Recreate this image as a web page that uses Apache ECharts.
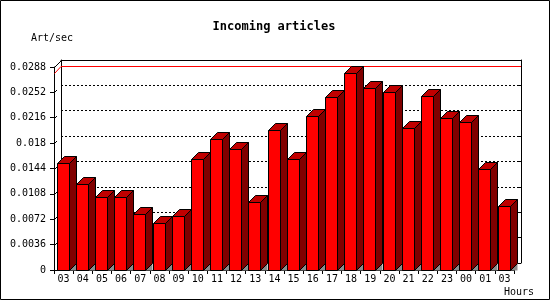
<!DOCTYPE html>
<html><head><meta charset="utf-8">
<script src="https://cdn.jsdelivr.net/npm/echarts@6/dist/echarts.min.js"></script>
<style>html,body{margin:0;padding:0;background:#fff}#c{width:550px;height:300px}</style>
</head><body><div id="c"></div>
<script>
const hours = ['03','04','05','06','07','08','09','10','11','12','13','14','15','16','17','18','19','20','21','22','23','00','01','03'];
const artsPerSec = [0.0152,0.0122,0.0103,0.0103,0.0080,0.0066,0.0077,0.0158,0.0186,0.0172,0.0097,0.0199,0.0158,0.0218,0.0246,0.0279,0.0258,0.0252,0.0201,0.0247,0.0216,0.0210,0.0144,0.0091];
const yTickLabels = ['0','0.0036','0.0072','0.0108','0.0144','0.018','0.0216','0.0252','0.0288'];
const yMin = 0, yMax = 0.0288, yStep = 0.0036;
const D = 7;
const FONT = 'DejaVu Sans Mono';

const chart = echarts.init(document.getElementById('c'), null, {renderer: 'canvas'});

function renderBar(params, api) {
  const idx = api.value(0), v = api.value(1);
  const top = api.coord([idx, v]);
  const base = api.coord([idx, 0]);
  const bw = api.size([1, 0])[0];
  const x0 = Math.round(top[0] - bw / 2 + 2.7) + 0.5;
  const w = 12;
  const x1 = x0 + w;
  const yt = Math.round(top[1]) + 0.5;
  const yb = Math.round(base[1]) + 0.5;
  return {type: 'group', children: [
    {type: 'polygon', shape: {points: [[x1, yb], [x1 + D, yb - D], [x1 + D, yb]]}, style: {fill: '#8c8c8c', stroke: null}},
    {type: 'polygon', shape: {points: [[x1, yb], [x1, yt], [x1 + D, yt - D], [x1 + D, yb - D]]}, style: {fill: '#800000', stroke: '#000', lineWidth: 1}},
    {type: 'polygon', shape: {points: [[x0, yt], [x1, yt], [x1 + D, yt - D], [x0 + D, yt - D]]}, style: {fill: '#c00000', stroke: '#000', lineWidth: 1}},
    {type: 'rect', shape: {x: x0, y: yt, width: w, height: yb - yt}, style: {fill: '#ff0000', stroke: '#000', lineWidth: 1}}
  ]};
}

function renderMaxLine(params, api) {
  const p = api.coord([0, api.value(1)]);
  const cs = params.coordSys;
  const y = Math.round(p[1]) + 0.5;
  return {type: 'group', children: [
    {type: 'line', shape: {x1: cs.x, y1: y, x2: cs.x + cs.width, y2: y}, style: {stroke: '#ff0000', lineWidth: 1}},
    {type: 'line', shape: {x1: cs.x - D + 0.5, y1: y + D, x2: cs.x, y2: y}, style: {stroke: '#ff0000', lineWidth: 1}}
  ]};
}

function renderWallTick(params, api) {
  const v = api.value(1);
  const p = api.coord([0, v]);
  const cs = params.coordSys;
  const x = cs.x + 0.5;
  const y = Math.round(p[1]) + 0.5;
  const isTop = Math.abs(v - yMax) < 1e-9;
  const len = isTop ? D : 2.5;
  return {type: 'line', shape: {x1: x, y1: y, x2: x + len, y2: y - len}, style: {stroke: '#000', lineWidth: 1}};
}

const tickVals = yTickLabels.map(s => parseFloat(s)).filter(v => v > 0);
const maxVal = Math.max.apply(null, artsPerSec);

const option = {
  animation: false,
  backgroundColor: '#fff',
  grid: [
    {left: 54, right: 36, top: 67, bottom: 30, containLabel: false, outerBoundsMode: 'none'},
    {left: 54 + D, right: 36 - D, top: 67 - D, bottom: 30 + D, containLabel: false, outerBoundsMode: 'none'}
  ],
  xAxis: [
    {type: 'category', gridIndex: 0, data: hours, boundaryGap: true,
     axisLine: {show: true, onZero: false, lineStyle: {color: '#000', width: 1}},
     axisTick: {show: true, length: 4, lineStyle: {color: '#000'}},
     axisLabel: {show: true, interval: 0, margin: 4, color: '#000', fontFamily: FONT, fontSize: 10},
     splitLine: {show: false}},
    {type: 'category', gridIndex: 1, data: hours, position: 'top', boundaryGap: true,
     axisLine: {show: true, onZero: false, lineStyle: {color: '#000', width: 1}},
     axisTick: {show: false}, axisLabel: {show: false}, splitLine: {show: false}}
  ],
  yAxis: [
    {type: 'value', gridIndex: 0, min: yMin, max: yMax, interval: yStep,
     axisLine: {show: true, onZero: false, lineStyle: {color: '#000', width: 1}},
     axisTick: {show: true, length: 4, lineStyle: {color: '#000'}},
     axisLabel: {show: true, margin: 8, color: '#000', fontFamily: FONT, fontSize: 10,
       formatter: v => yTickLabels[Math.round(v / yStep)]},
     splitLine: {show: false}},
    {type: 'value', gridIndex: 1, min: yMin, max: yMax, interval: yStep, position: 'left',
     axisLine: {show: true, onZero: false, lineStyle: {color: '#000', width: 1}},
     axisTick: {show: false}, axisLabel: {show: false},
     splitLine: {show: true, showMinLine: false, showMaxLine: false, lineStyle: {color: '#000', width: 1, type: [2, 2]}}},
    {type: 'value', gridIndex: 1, min: yMin, max: yMax, interval: yStep, position: 'right',
     axisLine: {show: true, onZero: false, lineStyle: {color: '#000', width: 1}},
     axisTick: {show: true, inside: true, length: 3, lineStyle: {color: '#000'}},
     axisLabel: {show: false}, splitLine: {show: false}}
  ],
  series: [
    {type: 'custom', xAxisIndex: 1, yAxisIndex: 1, z: 1, silent: true,
     renderItem: renderMaxLine, data: [[0, maxVal]]},
    {type: 'custom', xAxisIndex: 0, yAxisIndex: 0, z: 2, silent: true,
     renderItem: renderWallTick, data: tickVals.map(v => [0, v])},
    {type: 'custom', xAxisIndex: 0, yAxisIndex: 0, z: 3, silent: true,
     renderItem: renderBar, data: artsPerSec.map((v, i) => [i, v])}
  ],
  graphic: [
    {type: 'rect', shape: {x: 0.5, y: 0.5, width: 549, height: 299}, style: {fill: null, stroke: '#000', lineWidth: 1}, z: 100},
    {type: 'text', x: 274, y: 27, style: {text: 'Incoming articles', fill: '#000', font: 'bold 12px "DejaVu Sans Mono"', textAlign: 'center', textVerticalAlign: 'middle'}},
    {type: 'text', x: 31, y: 38, style: {text: 'Art/sec', fill: '#000', font: '10px "DejaVu Sans Mono"', textAlign: 'left', textVerticalAlign: 'middle'}},
    {type: 'text', x: 534, y: 292, style: {text: 'Hours', fill: '#000', font: '10px "DejaVu Sans Mono"', textAlign: 'right', textVerticalAlign: 'middle'}}
  ]
};
chart.setOption(option);
</script>
</body></html>
